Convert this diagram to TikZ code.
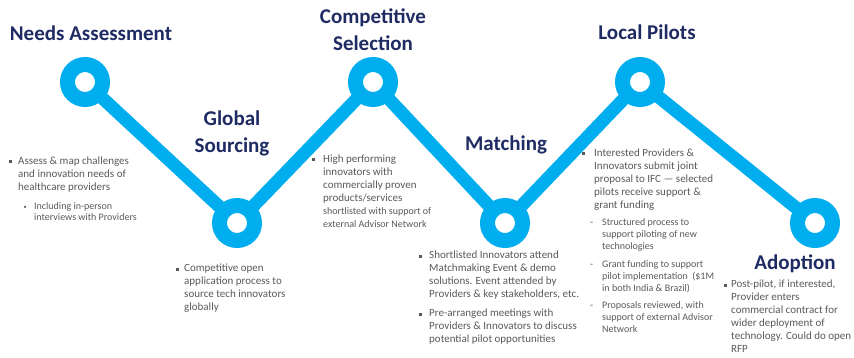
\documentclass[tikz,border=0pt]{standalone}
\usepackage{fontspec}
\setmainfont{Carlito}
\usepackage{xcolor}
\definecolor{pathblue}{HTML}{00AEEF}
\definecolor{titlenavy}{HTML}{1F2B63}
\definecolor{bodygray}{HTML}{595959}

\begin{document}
\begin{tikzpicture}[x=1pt,y=-1pt]
				\tikzstyle{every node}+=[inner sep=0pt]
				\tikzstyle{ring}=[circle,draw=pathblue,line width=15pt,fill=white,minimum size=35pt,outer sep=0pt]
				\tikzstyle{pathline}=[draw=pathblue,line width=13pt]
				\tikzstyle{heading}=[text=titlenavy,font=\fontsize{21}{27}\selectfont\bfseries,align=center]
				\tikzstyle{body}=[text=bodygray,font=\fontsize{11}{13}\selectfont,align=left,anchor=north west]
				\tikzstyle{subbody}=[body,font=\fontsize{10}{12}\selectfont]
				\tikzstyle{sqbul}=[fill=bodygray,minimum size=3pt]
				\tikzstyle{dotbul}=[circle,fill=bodygray,minimum size=2.5pt]
				\useasboundingbox (0,0) rectangle (854,358);
				% stations
				\node [ring] (na) at (85,82) {};
				\node [ring] (gs) at (237,223) {};
				\node [ring] (cs) at (373,82) {};
				\node [ring] (mt) at (505,223) {};
				\node [ring] (lp) at (640,82) {};
				\node [ring] (ad) at (815,223) {};
				\draw [pathline] (na) -- (gs);
				\draw [pathline] (gs) -- (cs);
				\draw [pathline] (cs) -- (mt);
				\draw [pathline] (mt) -- (lp);
				\draw [pathline] (lp) -- (ad);
				% headings
				\node [heading] (tna) at (91,33) {Needs Assessment};
				\node [heading] (tgs) at (232,133) {Global\\Sourcing};
				\node [heading] (tcs) at (373,30) {Competitive\\Selection};
				\node [heading] (tmt) at (506,145) {Matching};
				\node [heading] (tlp) at (647,32) {Local Pilots};
				\node [heading] (tad) at (795,264) {Adoption};
				% needs assessment
				\node [body] (naA) at (18,157) {Assess \& map challenges\\and innovation needs of\\healthcare providers};
				\node [sqbul] (naAb) at (10,162) {};
				\node [subbody,font=\fontsize{10}{10.7}\selectfont] (naB) at (34,202.5) {Including in-person\\interviews with Providers};
				\node [dotbul] (naBb) at (25,207) {};
				% global sourcing
				\node [body] (gsA) at (184,264) {Competitive open\\application process to\\source tech innovators\\globally};
				\node [sqbul] (gsAb) at (177,269) {};
				% competitive selection
				\node [body] (csA) at (323,155) {High performing\\innovators with\\commercially proven\\products/services\\{\fontsize{10}{11}\selectfont shortlisted with support of}\\{\fontsize{10}{11}\selectfont external Advisor Network}};
				\node [sqbul] (csAb) at (313,160) {};
				% matching
				\node [body] (mtA) at (429,251) {Shortlisted Innovators attend\\Matchmaking Event \& demo\\solutions. Event attended by\\Providers \& key stakeholders, etc.};
				\node [sqbul] (mtAb) at (420,256) {};
				\node [body] (mtB) at (429,309) {Pre-arranged meetings with\\Providers \& Innovators to discuss\\potential pilot opportunities};
				\node [sqbul] (mtBb) at (420,314) {};
				% local pilots
				\node [body] (lpA) at (594,149) {Interested Providers \&\\Innovators submit joint\\proposal to IFC — selected\\pilots receive support \&\\grant funding};
				\node [sqbul] (lpAb) at (583,154) {};
				\node [subbody] (lpB) at (602,218.5) {Structured process to\\support piloting of new\\technologies};
				\node [subbody] (lpBd) at (590,218.5) {\vphantom{d}-};
				\node [subbody] (lpC) at (602,260.5) {Grant funding to support\\pilot implementation~ (\$1M\\in both India \& Brazil)};
				\node [subbody] (lpCd) at (590,260.5) {\vphantom{d}-};
				\node [subbody] (lpD) at (602,301.5) {Proposals reviewed, with\\support of external Advisor\\Network};
				\node [subbody] (lpDd) at (590,301.5) {\vphantom{d}-};
				% adoption
				\node [body] (adA) at (731,280) {Post-pilot, if interested,\\Provider enters\\commercial contract for\\wider deployment of\\technology. Could do open\\RFP};
				\node [sqbul] (adAb) at (725,285) {};
\end{tikzpicture}
\end{document}
